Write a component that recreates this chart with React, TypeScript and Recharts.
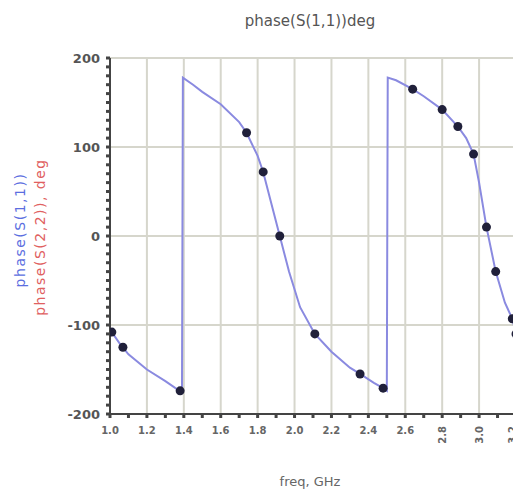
import React from "react";
import {
  ComposedChart,
  Line,
  Scatter,
  XAxis,
  YAxis,
  ReferenceLine,
} from "recharts";

const xMajorTicks = [1.0, 1.2, 1.4, 1.6, 1.8, 2.0, 2.2, 2.4, 2.6, 2.8, 3.0, 3.2];
const xTickLabels = ["1.0", "1.2", "1.4", "1.6", "1.8", "2.0", "2.2", "2.4", "2.6", "2.8", "3.0", "3.2"];
const yMajorTicks = [-200, -100, 0, 100, 200];

// trace (blue line), wraps at +/-180
const curveFreq = [
  1.0, 1.05, 1.1, 1.2, 1.3, 1.39, 1.395, 1.45, 1.5, 1.6, 1.7, 1.74, 1.8, 1.83, 1.87, 1.92,
  1.97, 2.03, 2.11, 2.2, 2.3, 2.355, 2.43, 2.48, 2.5, 2.505, 2.55, 2.64, 2.7, 2.8, 2.885,
  2.93, 2.97, 3.0, 3.04, 3.09, 3.14, 3.18, 3.2,
];
const curvePhase = [
  -105, -120, -133, -150, -163, -176, 178, 170, 162, 148, 128, 116, 90, 72, 40, 0,
  -40, -80, -110, -130, -148, -155, -165, -171, -174, 178, 175, 165, 157, 142, 123,
  110, 92, 60, 10, -40, -75, -93, -110,
];

// sample markers
const markerFreq = [1.01, 1.07, 1.38, 1.74, 1.83, 1.92, 2.11, 2.355, 2.48, 2.64, 2.8, 2.885, 2.97, 3.04, 3.09, 3.18, 3.2];
const markerPhase = [-108, -125, -174, 116, 72, 0, -110, -155, -171, 165, 142, 123, 92, 10, -40, -93, -110];

const curve = curveFreq.map((f, i) => ({ freq: f, phase: curvePhase[i] }));
const markers = markerFreq.map((f, i) => ({ freq: f, phase: markerPhase[i] }));

const xAllTicks = xMajorTicks.flatMap((t, i) =>
  i < xMajorTicks.length - 1 ? [t, +(t + 0.1).toFixed(1)] : [t]
);
const yAllTicks: number[] = [];
for (let v = -200; v <= 200; v += 10) yAllTicks.push(v);

const XTick = (props: any) => {
  const { x, y, payload } = props;
  const idx = xMajorTicks.findIndex((t) => Math.abs(t - payload.value) < 1e-6);
  if (idx < 0) return null;
  // last few labels are drawn upright (rotated) like the original
  if (idx >= xMajorTicks.length - 3) {
    const bx = idx === xMajorTicks.length - 1 ? x : x + 4;
    return (
      <text
        x={bx}
        y={y + 6}
        transform={`rotate(-90 ${bx} ${y + 6})`}
        textAnchor="end"
        fontSize={10}
        fill="#666"
        fontWeight="bold"
      >
        {xTickLabels[idx]}
      </text>
    );
  }
  return (
    <text x={x} y={y + 14} textAnchor="middle" fontSize={10} fill="#666" fontWeight="bold">
      {xTickLabels[idx]}
    </text>
  );
};

const YTick = (props: any) => {
  const { x, y, payload } = props;
  if (!yMajorTicks.includes(payload.value)) return null;
  return (
    <text x={x - 4} y={y + 5} textAnchor="end" fontSize={13} fill="#555" fontWeight="bold">
      {payload.value}
    </text>
  );
};

export default function App() {
  return (
    <div
      style={{
        position: "relative",
        width: 521,
        height: 500,
        marginLeft: -8,
        marginTop: -8,
        background: "#fff",
        fontFamily: "DejaVu Sans, sans-serif",
      }}
    >
      <div
        style={{
          position: "absolute",
          top: 12,
          left: 225,
          width: 170,
          textAlign: "center",
          fontSize: 15,
          color: "#555",
        }}
      >
        phase(S(1,1))deg
      </div>
      <div
        style={{
          position: "absolute",
          left: 20,
          top: 230,
          transform: "translate(-50%, -50%) rotate(-90deg)",
          whiteSpace: "nowrap",
          fontSize: 14,
          letterSpacing: 1.5,
          color: "#5b6ee0",
        }}
      >
        phase(S(1,1))
      </div>
      <div
        style={{
          position: "absolute",
          left: 40,
          top: 237,
          transform: "translate(-50%, -50%) rotate(-90deg)",
          whiteSpace: "nowrap",
          fontSize: 14,
          letterSpacing: 1.5,
          color: "#e06060",
        }}
      >
        phase(S(2,2)), deg
      </div>
      <div
        style={{
          position: "absolute",
          top: 474,
          left: 260,
          width: 100,
          textAlign: "center",
          fontSize: 13,
          color: "#666",
        }}
      >
        freq, GHz
      </div>
      <ComposedChart
        width={521}
        height={500}
        margin={{ top: 58, right: 5, bottom: 46, left: 0 }}
      >
        <XAxis
          type="number"
          dataKey="freq"
          domain={[1.0, 3.2]}
          ticks={xAllTicks}
          interval={0}
          height={40}
          tick={<XTick />}
          tickSize={4}
          axisLine={{ stroke: "#444", strokeWidth: 2 }}
          tickLine={{ stroke: "#444", strokeWidth: 3 }}
          allowDataOverflow
        />
        <YAxis
          type="number"
          dataKey="phase"
          domain={[-200, 200]}
          ticks={yAllTicks}
          interval={0}
          width={110}
          tick={<YTick />}
          tickSize={4}
          axisLine={{ stroke: "#444", strokeWidth: 2 }}
          tickLine={{ stroke: "#444", strokeWidth: 3 }}
          allowDataOverflow
        />
        {xMajorTicks.slice(1).map((t) => (
          <ReferenceLine key={"vx" + t} x={t} stroke="#d6d6cc" strokeWidth={2} />
        ))}
        {yMajorTicks.slice(1).map((t) => (
          <ReferenceLine key={"hy" + t} y={t} stroke="#d6d6cc" strokeWidth={2} />
        ))}
        <Line
          data={curve}
          dataKey="phase"
          type="linear"
          stroke="#8a8ae0"
          strokeWidth={2}
          dot={false}
          isAnimationActive={false}
        />
        <Scatter
          data={markers}
          dataKey="phase"
          fill="#20203a"
          shape={(p: any) => <circle cx={p.cx} cy={p.cy} r={4.5} fill="#20203a" />}
          isAnimationActive={false}
        />
      </ComposedChart>
    </div>
  );
}
